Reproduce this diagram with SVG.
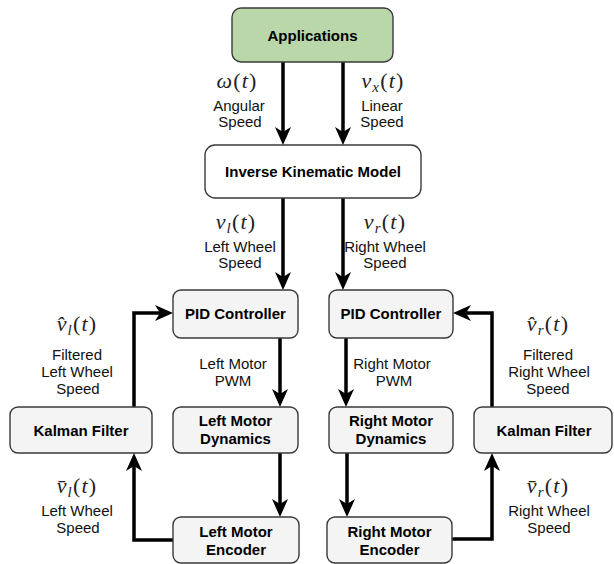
<svg xmlns="http://www.w3.org/2000/svg" width="614" height="564" viewBox="0 0 614 564">
<style>
.box{fill:#f4f4f4;stroke:#3a3a3a;stroke-width:1.4}
.app{fill:#b9d7a8;stroke:#3a3a3a;stroke-width:1.4}
.white{fill:#ffffff;stroke:#3a3a3a;stroke-width:1.4}
.nl{font-family:"Liberation Sans",Arial,sans-serif;font-weight:bold;font-size:15px;fill:#000;text-anchor:middle}
.t{font-family:"Liberation Sans",Arial,sans-serif;font-size:15px;fill:#111;text-anchor:middle}
.m{font-family:"Liberation Serif","Times New Roman",serif;font-style:italic;font-size:22px;fill:#222;text-anchor:middle;letter-spacing:1.2px}
.m .n{font-style:normal}
.m .s{font-size:15px}
.c{fill:none;stroke:#000;stroke-width:3.5;marker-end:url(#ah)}
</style>
<defs>
<marker id="ah" markerUnits="userSpaceOnUse" markerWidth="18" markerHeight="16" viewBox="0 0 18 16" refX="12" refY="8" orient="auto">
<path d="M0,0 L18,8 L0,16 L5,8 Z" fill="#000"/>
</marker>
</defs>

<g id="connectors">
<path class="c" d="M283,62 V139"/>
<path class="c" d="M343,62 V139"/>
<path class="c" d="M283,198 V284"/>
<path class="c" d="M343,198 V284"/>
<path class="c" d="M280,338 V401"/>
<path class="c" d="M346,338 V401"/>
<path class="c" d="M280,453 V511"/>
<path class="c" d="M347,453 V511"/>
<path class="c" d="M173,540 H134 V459"/>
<path class="c" d="M134,407 V313 H167"/>
<path class="c" d="M452,539 H492 V459"/>
<path class="c" d="M492,407 V313 H459"/>
</g>

<g id="applications">
<rect class="app" x="232" y="8" width="161" height="54" rx="9"/>
<text class="nl" x="312.5" y="41">Applications</text>
</g>
<g id="inverse-kinematic-model">
<rect class="white" x="205" y="145" width="216" height="53" rx="10"/>
<text class="nl" x="313" y="177">Inverse Kinematic Model</text>
</g>
<g id="pid-left">
<rect class="box" x="173" y="290" width="125" height="48" rx="8"/>
<text class="nl" x="235.5" y="319">PID Controller</text>
</g>
<g id="pid-right">
<rect class="box" x="329" y="290" width="124" height="48" rx="8"/>
<text class="nl" x="391" y="319">PID Controller</text>
</g>
<g id="left-motor-dynamics">
<rect class="box" x="173" y="407" width="125" height="46" rx="8"/>
<text class="nl" x="235.5" y="426">Left Motor</text>
<text class="nl" x="235.5" y="444">Dynamics</text>
</g>
<g id="right-motor-dynamics">
<rect class="box" x="329" y="407" width="124" height="46" rx="8"/>
<text class="nl" x="391" y="426">Right Motor</text>
<text class="nl" x="391" y="444">Dynamics</text>
</g>
<g id="left-motor-encoder">
<rect class="box" x="173" y="517" width="126" height="46" rx="8"/>
<text class="nl" x="236" y="537">Left Motor</text>
<text class="nl" x="236" y="555">Encoder</text>
</g>
<g id="right-motor-encoder">
<rect class="box" x="327" y="517" width="125" height="46" rx="8"/>
<text class="nl" x="389.5" y="537">Right Motor</text>
<text class="nl" x="389.5" y="555">Encoder</text>
</g>
<g id="kalman-left">
<rect class="box" x="10" y="407" width="142" height="46" rx="8"/>
<text class="nl" x="81" y="436">Kalman Filter</text>
</g>
<g id="kalman-right">
<rect class="box" x="474" y="407" width="138" height="46" rx="8"/>
<text class="nl" x="544" y="436">Kalman Filter</text>
</g>

<g id="labels">
<text class="m" x="237" y="88">ω<tspan class="n">(</tspan>t<tspan class="n">)</tspan></text>
<text class="t" x="239" y="111">Angular</text>
<text class="t" x="240" y="127">Speed</text>

<text class="m" x="383" y="88">v<tspan class="s" dy="4">x</tspan><tspan class="n" dy="-4">(</tspan>t<tspan class="n">)</tspan></text>
<text class="t" x="382" y="111">Linear</text>
<text class="t" x="382" y="127">Speed</text>

<text class="m" x="236" y="229">v<tspan class="s" dy="4">l</tspan><tspan class="n" dy="-4">(</tspan>t<tspan class="n">)</tspan></text>
<text class="t" x="240" y="252">Left Wheel</text>
<text class="t" x="240" y="268">Speed</text>

<text class="m" x="385" y="229">v<tspan class="s" dy="4">r</tspan><tspan class="n" dy="-4">(</tspan>t<tspan class="n">)</tspan></text>
<text class="t" x="385" y="252">Right Wheel</text>
<text class="t" x="385" y="268">Speed</text>

<text class="m" x="77" y="331">v̂<tspan class="s" dy="4">l</tspan><tspan class="n" dy="-4">(</tspan>t<tspan class="n">)</tspan></text>
<text class="t" x="77" y="360">Filtered</text>
<text class="t" x="77" y="377">Left Wheel</text>
<text class="t" x="78" y="394">Speed</text>

<text class="t" x="233" y="369">Left Motor</text>
<text class="t" x="233" y="386">PWM</text>
<text class="t" x="392" y="369">Right Motor</text>
<text class="t" x="394" y="386">PWM</text>

<text class="m" x="548" y="331">v̂<tspan class="s" dy="4">r</tspan><tspan class="n" dy="-4">(</tspan>t<tspan class="n">)</tspan></text>
<text class="t" x="548" y="360">Filtered</text>
<text class="t" x="549" y="377">Right Wheel</text>
<text class="t" x="548" y="394">Speed</text>

<text class="m" x="77" y="493">v̄<tspan class="s" dy="4">l</tspan><tspan class="n" dy="-4">(</tspan>t<tspan class="n">)</tspan></text>
<text class="t" x="77" y="516">Left Wheel</text>
<text class="t" x="78" y="533">Speed</text>

<text class="m" x="548" y="493">v̄<tspan class="s" dy="4">r</tspan><tspan class="n" dy="-4">(</tspan>t<tspan class="n">)</tspan></text>
<text class="t" x="549" y="516">Right Wheel</text>
<text class="t" x="549" y="533">Speed</text>
</g>
</svg>
